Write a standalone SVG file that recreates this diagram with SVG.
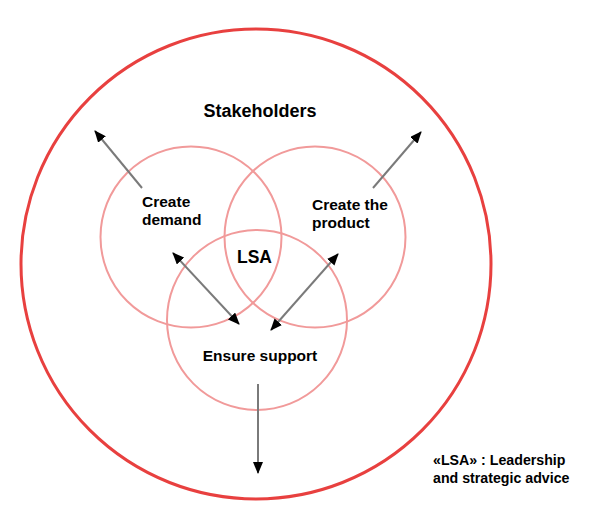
<svg xmlns="http://www.w3.org/2000/svg" width="600" height="528" viewBox="0 0 600 528">
<style>
.outer{fill:none;stroke:#e8403f;stroke-width:3}
.inner{fill:none;stroke:#f19a9a;stroke-width:2}
.arr{stroke:#7a7a7a;stroke-width:2;fill:none}
text{font-family:"Liberation Sans",Arial,sans-serif;font-weight:bold;fill:#000}
</style>
<defs>
<marker id="ah" markerUnits="userSpaceOnUse" markerWidth="12" markerHeight="10" refX="11" refY="5" orient="auto-start-reverse" viewBox="0 0 12 10">
<path d="M0,0 L12,5 L0,10 z" fill="#000"/>
</marker>
</defs>
<rect width="600" height="528" fill="#fff"/>
<g id="stakeholders">
<circle class="outer" cx="256" cy="264" r="235"/>
<text x="260" y="117" font-size="18" text-anchor="middle">Stakeholders</text>
</g>
<g id="create-demand">
<circle class="inner" cx="191" cy="237" r="90.5"/>
<text x="142" y="207" font-size="15.5">Create</text>
<text x="142" y="225" font-size="15.5">demand</text>
</g>
<g id="create-product">
<circle class="inner" cx="315" cy="237" r="90.5"/>
<text x="312" y="210" font-size="15.5">Create the</text>
<text x="312" y="228" font-size="15.5">product</text>
</g>
<g id="ensure-support">
<circle class="inner" cx="257" cy="320" r="90"/>
<text x="260" y="361" font-size="15.5" text-anchor="middle">Ensure support</text>
</g>
<g id="lsa">
<text x="254.5" y="263" font-size="17.5" text-anchor="middle">LSA</text>
</g>
<g id="legend">
<text x="433" y="465" font-size="14.2">«LSA» : Leadership</text>
<text x="433" y="483" font-size="14.2">and strategic advice</text>
</g>
<g id="connectors">
<line class="arr" x1="142" y1="188" x2="95" y2="131" marker-end="url(#ah)"/>
<line class="arr" x1="373" y1="188" x2="421" y2="132" marker-end="url(#ah)"/>
<line class="arr" x1="173" y1="253" x2="239" y2="324" marker-start="url(#ah)" marker-end="url(#ah)"/>
<line class="arr" x1="338" y1="254" x2="271" y2="330" marker-start="url(#ah)" marker-end="url(#ah)"/>
<line class="arr" x1="258" y1="384" x2="258" y2="473" marker-end="url(#ah)"/>
</g>
</svg>
